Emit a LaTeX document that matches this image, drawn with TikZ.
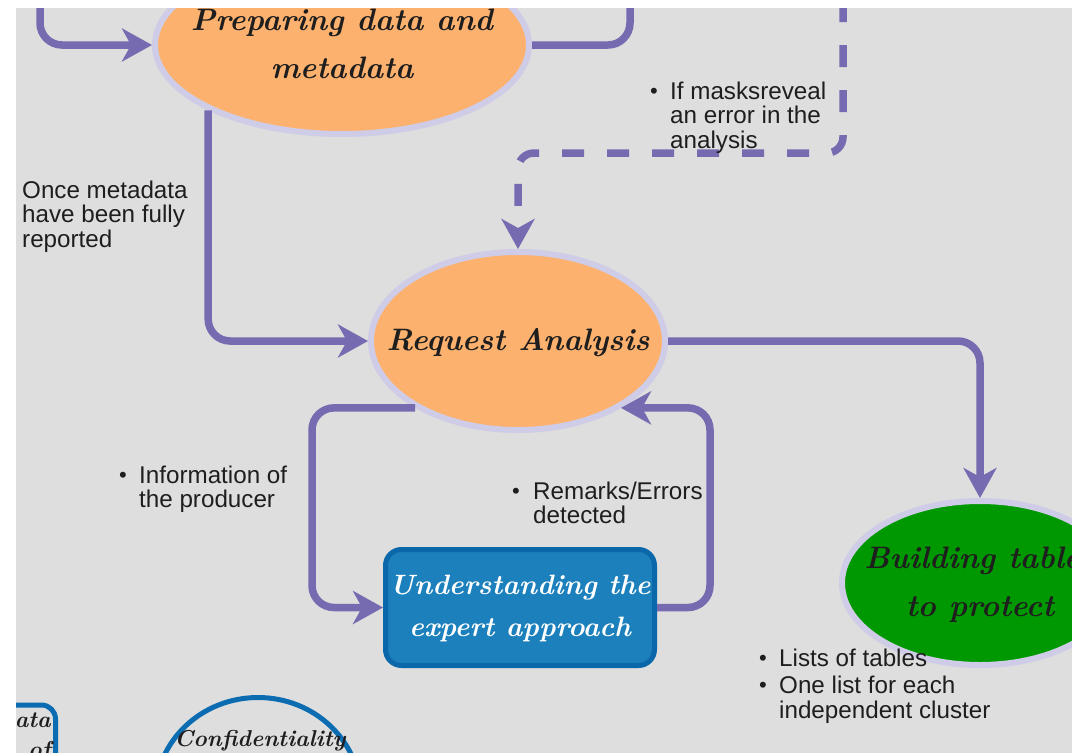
\documentclass[tikz,border=0pt]{standalone}
\usepackage{fontspec}
\newfontfamily\labelfont{Liberation Sans}
\usetikzlibrary{arrows.meta,shapes.geometric}

\definecolor{paper}{RGB}{222,222,222}
\definecolor{flowc}{RGB}{118,106,176}
\definecolor{rimc}{RGB}{206,204,230}
\definecolor{orangec}{RGB}{253,177,110}
\definecolor{greenc}{RGB}{0,152,0}
\definecolor{boxc}{RGB}{28,128,188}
\definecolor{boxrim}{RGB}{10,104,170}
\definecolor{bluerim}{RGB}{12,108,178}
\definecolor{inkc}{RGB}{30,30,30}

% cursive face for the process names
\newcommand\handface{\rmfamily\bfseries\itshape}
\newcommand\bul{\raisebox{1pt}{\fontsize{22}{22}\selectfont\textbullet}}
% centred lines that do not widen the shape around them
\newcommand\slimlines[1]{\makebox[0pt]{\begin{tabular}{@{}c@{}}#1\end{tabular}}}

\tikzset{
  flowline/.style={draw=flowc, line width=7.5pt, rounded corners=22pt},
  flow/.style={flowline, -{Stealth[length=30pt,width=33pt,inset=9pt]}},
  dashflow/.style={flow, rounded corners=16pt, dash pattern=on 22pt off 23pt},
  oval/.style={ellipse, draw=rimc, line width=6pt, inner sep=0pt,
    font=\handface\fontsize{31}{48}\selectfont, text=inkc},
  stepbox/.style={rectangle, draw=boxrim, fill=boxc, line width=5pt, rounded corners=16pt,
    inner sep=0pt, text=white, font=\handface\fontsize{28}{42}\selectfont},
  lbl/.style={inner sep=0pt, anchor=north west, text=inkc,
    font=\labelfont\fontsize{24.2}{23.5}\selectfont},
  handtxt/.style={inner sep=0pt, text=inkc, font=\handface\fontsize{23}{30}\selectfont},
}

\begin{document}
\begin{tikzpicture}[x=1pt,y=-1pt]
\useasboundingbox (0,0) rectangle (1072,753);
\fill[paper] (16,8) rectangle (1072,753);
\begin{scope}
\clip (16,8) rectangle (1072,753);

% process nodes
\node[oval, fill=orangec, minimum width=374pt, minimum height=178pt] (prep) at (342,45)
  {\raisebox{-3pt}{\slimlines{Preparing data and\\metadata}}};
\node[oval, fill=orangec, minimum width=294pt, minimum height=178pt] (req) at (518,341)
  {\raisebox{-8pt}{\slimlines{Request Analysis}}};
\node[oval, fill=greenc, minimum width=276pt, minimum height=164pt] (build) at (980,583)
  {\raisebox{-7pt}{\slimlines{Building tables\\to protect}}};
\node[stepbox, minimum width=269pt, minimum height=116pt] (und) at (520,607.5)
  {\raisebox{-4pt}{\slimlines{Understanding the\\expert approach}}};

% partly visible nodes along the lower border
\node[ellipse, draw=bluerim, line width=5pt, minimum width=205pt, minimum height=195pt] (conf) at (258,795) {};
\node[handtxt, anchor=base] (conftext) at (260,746) {Confidentiality};
\node[rectangle, draw=bluerim, line width=5pt, rounded corners=14pt,
  minimum width=111pt, minimum height=110pt] (databox) at (0,760) {};
\node[handtxt, anchor=north east, align=right] (datatext) at (51,712) {Data\\of};

% free ends leaving the top border
\coordinate (topA) at (40,0);
\coordinate (topB) at (630,0);
\coordinate (topC) at (843,0);
\coordinate (dashbend) at (518,153);
\coordinate (lx) at (312,500);
\coordinate (rx) at (710,500);

% connectors
\draw[flow] (topA) |- (prep.west);
\draw[flowline] (prep.east) -| (topB);
\draw[dashflow] (topC) |- (dashbend) -- (req.north);
\draw[flow] (prep.206) |- (req.west);
\draw[flow] (req.east) -| (build.north);
\draw[flow] (req.213) -| (lx) |- (und.west);
\draw[flow] (und.east) -| (rx) |- (req.-33);

% annotations
\node[lbl] (meta) at (22,180.5)
  {\begin{tabular}{@{}l@{}}Once metadata\\have been fully\\reported\end{tabular}};
\node[lbl] (info) at (119,465.5)
  {\begin{tabular}{@{}p{20pt}@{}l@{}}\bul & Information of\\ & the producer\end{tabular}};
\node[lbl] (remarks) at (512,481.5)
  {\begin{tabular}{@{}p{21pt}@{}l@{}}\bul & Remarks/Errors\\ & detected\end{tabular}};
\node[lbl] (masks) at (650,81.5)
  {\begin{tabular}{@{}p{20pt}@{}l@{}}\bul & If masksreveal\\ & an error in the\\ & analysis\end{tabular}};
\node[lbl] (lists) at (759,648.5)
  {\begin{tabular}{@{}p{20pt}@{}l@{}}\bul & Lists of tables\\[3pt] \bul & One list for each\\ & independent cluster\end{tabular}};
\end{scope}
\end{tikzpicture}
\end{document}
